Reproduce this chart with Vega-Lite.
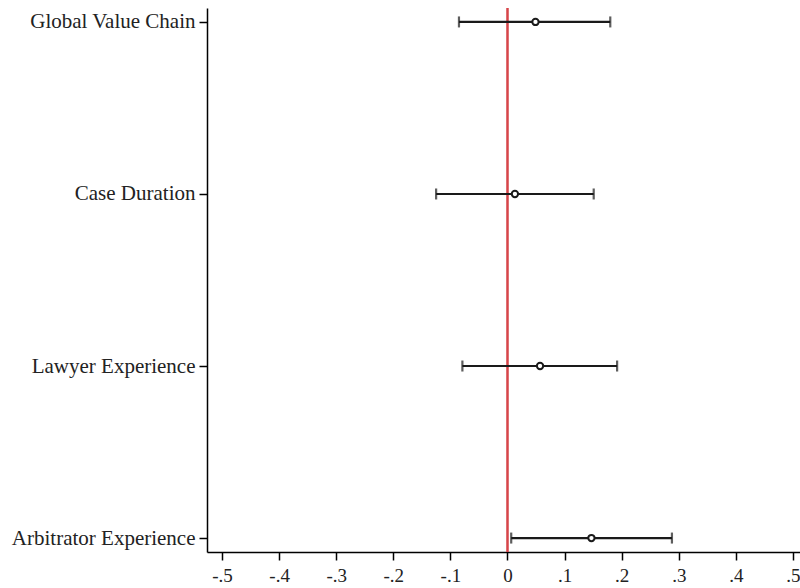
{
  "$schema": "https://vega.github.io/schema/vega-lite/v6.json",
  "autosize": "none",
  "width": 593,
  "height": 544,
  "padding": {"left": 207, "top": 8, "right": 0, "bottom": 36},
  "background": "white",
  "config": {
    "view": {"stroke": null},
    "font": "Liberation Serif",
    "axis": {
      "labelFont": "Liberation Serif",
      "labelColor": "#222222",
      "domainColor": "#000000",
      "tickColor": "#000000",
      "domainWidth": 1.5,
      "tickWidth": 1.5,
      "grid": false,
      "title": null
    }
  },
  "data": {
    "values": [
      {"var": "Global Value Chain", "est": 0.049, "lo": -0.085, "hi": 0.18},
      {"var": "Case Duration", "est": 0.013, "lo": -0.125, "hi": 0.151},
      {"var": "Lawyer Experience", "est": 0.057, "lo": -0.079, "hi": 0.192},
      {"var": "Arbitrator Experience", "est": 0.147, "lo": 0.0065, "hi": 0.288}
    ]
  },
  "encoding": {
    "y": {
      "field": "var",
      "type": "nominal",
      "sort": ["Global Value Chain", "Case Duration", "Lawyer Experience", "Arbitrator Experience"],
      "scale": {"type": "point", "padding": 0.081},
      "axis": {"labelFontSize": 21, "labelLimit": 300, "tickSize": 8, "labelPadding": 4, "title": null}
    }
  },
  "layer": [
    {
      "mark": {"type": "rule", "color": "#d6454a", "strokeWidth": 1.6},
      "encoding": {
        "x": {"datum": 0, "type": "quantitative"},
        "y": null
      }
    },
    {
      "mark": {"type": "rule", "color": "#1a1a1a", "strokeWidth": 2.2},
      "encoding": {
        "x": {
          "field": "lo",
          "type": "quantitative",
          "scale": {"domain": [-0.5263, 0.5123], "nice": false, "zero": false},
          "axis": {
            "values": [-0.5, -0.4, -0.3, -0.2, -0.1, 0, 0.1, 0.2, 0.3, 0.4, 0.5],
            "labelExpr": "datum.value == 0 ? '0' : (datum.value < 0 ? '-' : '') + replace(format(abs(datum.value), '.1f'), '0.', '.')",
            "labelFontSize": 19,
            "tickSize": 8,
            "labelPadding": 6,
            "title": null
          }
        },
        "x2": {"field": "hi"}
      }
    },
    {
      "mark": {"type": "tick", "color": "#1a1a1a", "thickness": 2.2, "size": 11},
      "encoding": {"x": {"field": "lo", "type": "quantitative"}}
    },
    {
      "mark": {"type": "tick", "color": "#1a1a1a", "thickness": 2.2, "size": 11},
      "encoding": {"x": {"field": "hi", "type": "quantitative"}}
    },
    {
      "mark": {"type": "point", "shape": "circle", "filled": false, "color": "#1a1a1a", "strokeWidth": 2, "size": 40, "fill": "white", "fillOpacity": 1},
      "encoding": {"x": {"field": "est", "type": "quantitative"}}
    }
  ]
}
